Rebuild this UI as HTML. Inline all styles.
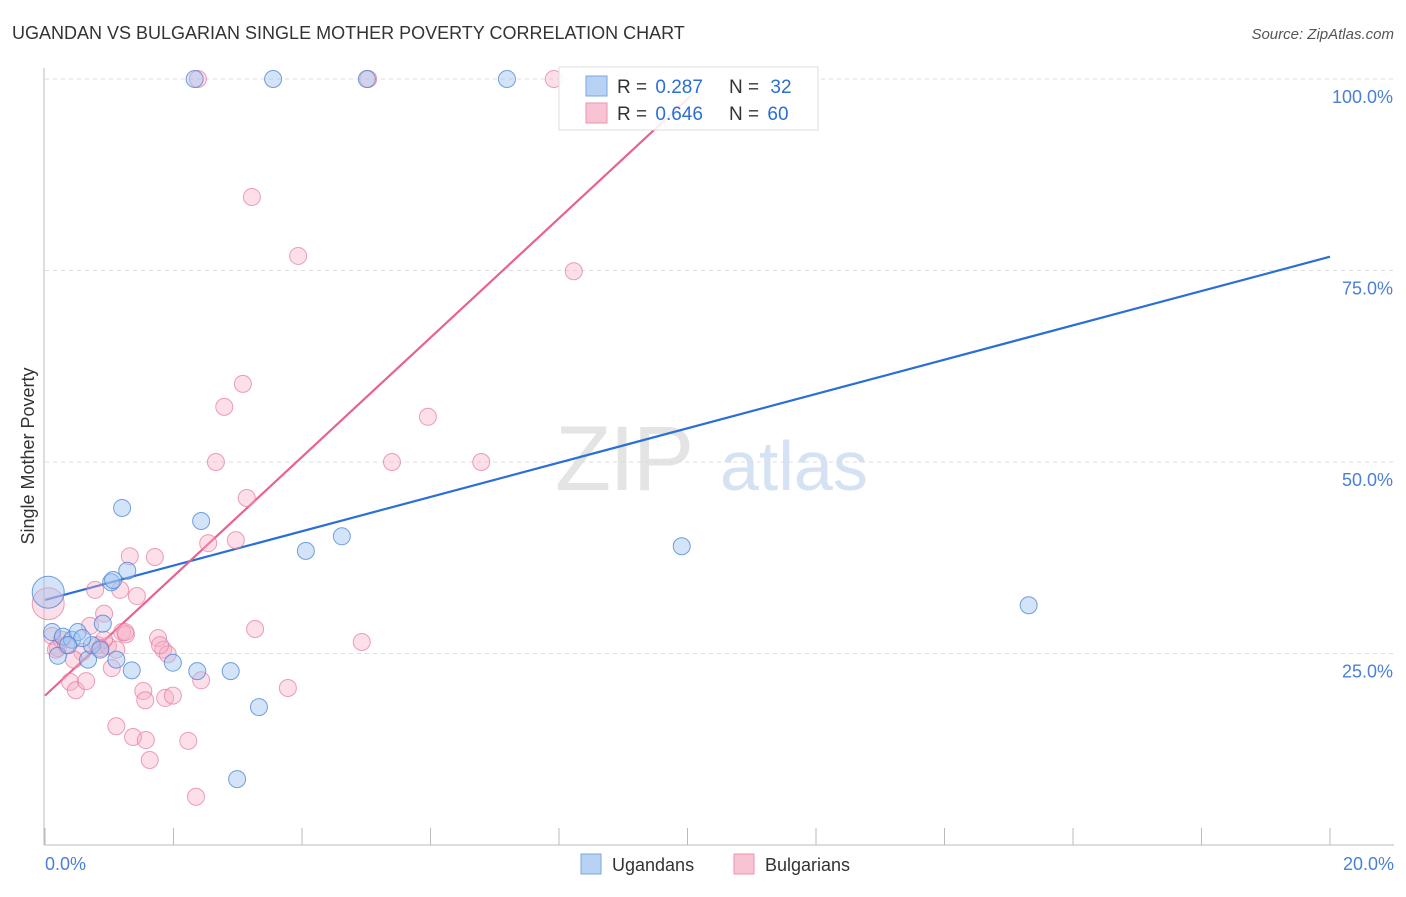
<!DOCTYPE html>
<html><head><meta charset="utf-8"><style>
body{margin:0;background:#fff;font-family:"Liberation Sans",sans-serif;}
svg text{font-family:"Liberation Sans",sans-serif;}
</style></head><body>
<svg id="chart" width="1406" height="892" viewBox="0 0 1406 892">
<text x="12" y="39" font-size="18" fill="#333">UGANDAN VS BULGARIAN SINGLE MOTHER POVERTY CORRELATION CHART</text>
<text x="1394" y="39" font-size="15" fill="#555" text-anchor="end" font-style="italic">Source: ZipAtlas.com</text>
<g>
<text x="555" y="490" font-size="92" fill="#e4e4e4" font-family="Liberation Serif" letter-spacing="-2">ZIP</text>
<text x="720" y="490" font-size="70" fill="#d5e2f4">atlas</text>
</g>
<g id="grid"></g>
<g id="axes"></g>
<g id="lines"></g>
<g id="points"></g>
<text transform="translate(34,456) rotate(-90)" font-size="18" fill="#333" text-anchor="middle">Single Mother Poverty</text>
<g>
<rect x="559" y="67" width="259" height="63" fill="#fff" fill-opacity="0.88" stroke="#ddd"/>
<rect x="586" y="76" width="21" height="20" fill="#b8d2f4" stroke="#7aa6e2"/>
<rect x="586" y="103" width="21" height="20" fill="#f8c4d4" stroke="#eb95b0"/>
<text x="617" y="93" font-size="19" fill="#333">R = <tspan fill="#2a6fd6" dx="3">0.287</tspan></text>
<text x="729" y="93" font-size="19" fill="#333">N = <tspan fill="#2a6fd6" dx="6">32</tspan></text>
<text x="617" y="120" font-size="19" fill="#333">R = <tspan fill="#2a6fd6" dx="3">0.646</tspan></text>
<text x="729" y="120" font-size="19" fill="#333">N = <tspan fill="#2a6fd6" dx="3">60</tspan></text>
</g>
<g>
<rect x="581" y="854" width="20" height="20" fill="#b8d2f4" stroke="#7aa6e2"/>
<text x="612" y="871" font-size="18" fill="#333">Ugandans</text>
<rect x="734" y="854" width="20" height="20" fill="#f8c4d4" stroke="#eb95b0"/>
<text x="765" y="871" font-size="18" fill="#333">Bulgarians</text>
</g>
</svg>
<script>
const ugX=[0.05,0.11,0.20,0.28,0.42,0.51,0.67,0.73,0.86,0.90,1.03,1.11,1.20,1.28,1.35,1.99,2.37,2.43,2.89,2.99,3.33,4.06,4.62,9.91,15.31,2.33,3.55,5.01,7.19,0.58,0.36,1.06];
const ugY=[33.0,27.8,24.7,27.2,26.8,27.8,24.2,26.1,25.5,28.9,34.3,24.2,44.0,35.8,22.8,23.8,22.7,42.3,22.7,8.6,18.0,38.4,40.3,39.0,31.3,100,100,100,100,27.0,26.1,34.6];
const bgX=[0.05,0.11,0.20,0.26,0.39,0.48,0.64,0.70,0.78,0.82,0.92,0.98,1.04,1.11,1.17,1.20,1.26,1.32,1.37,1.43,1.53,1.56,1.57,1.63,1.71,1.76,1.84,1.87,1.99,2.23,2.35,2.43,2.54,2.66,2.79,3.08,3.14,3.22,3.27,3.78,3.94,4.93,5.40,5.96,6.79,8.23,2.38,5.03,7.92,1.11,1.91,0.58,0.92,1.25,0.86,0.17,0.33,0.45,1.79,2.97];
const bgY=[31.5,27.3,25.7,26.8,21.3,20.2,21.4,28.6,33.3,26.1,30.2,26.0,23.1,15.5,33.3,27.8,27.5,37.7,14.1,32.5,20.1,18.9,13.7,11.1,37.6,27.0,25.5,19.2,19.5,13.6,6.3,21.5,39.4,50.0,57.2,60.2,45.3,84.6,28.2,20.5,76.9,26.5,50.0,55.9,50.0,74.9,100,100,100,25.5,24.9,25.2,26.8,27.8,25.7,25.5,26.1,24.2,26.1,39.8];
const trendIntercept=[32.0,19.5];
const trendSlope=[2.24,7.79];
const yTicks=[25,50,75,100];
const yTickLabels=["25.0%","50.0%","75.0%","100.0%"];
const xTicks=[0,2,4,6,8,10,12,14,16,18,20];

const NS="http://www.w3.org/2000/svg";
const sx=v=>45+v/20*1285;
const sy=v=>845-v/100*766;
function mk(tag,attrs,parent){const e=document.createElementNS(NS,tag);for(const k in attrs)e.setAttribute(k,attrs[k]);parent.appendChild(e);return e;}
const grid=document.getElementById('grid'),axes=document.getElementById('axes'),lines=document.getElementById('lines'),pts=document.getElementById('points');
yTicks.forEach((t,i)=>{
  const l=mk('line',{x1:45,x2:1394,y1:sy(t),y2:sy(t),stroke:'#ddd','stroke-dasharray':'4,4'},grid);
  
  
  const tx=mk('text',{x:1393,y:sy(t)+24,'font-size':18,fill:'#4a7fd6','text-anchor':'end'},grid);
  tx.textContent=yTickLabels[i];
  
  
});
const ax=mk('line',{x1:44,x2:44,y1:68,y2:845,stroke:'#bbb'},axes);


const bx=mk('line',{x1:44,x2:1394,y1:845,y2:845,stroke:'#bbb'},axes);


xTicks.forEach(t=>{
  const l=mk('line',{x1:sx(t),x2:sx(t),y1:828,y2:845,stroke:'#bbb'},axes);
  
  
});
const xl0=mk('text',{x:45,y:870,'font-size':18,fill:'#4a7fd6'},axes);xl0.textContent='0.0%';


const xl1=mk('text',{x:1394,y:870,'font-size':18,fill:'#4a7fd6','text-anchor':'end'},axes);xl1.textContent='20.0%';



function dots(X,Y,fill,stroke,name){
  X.forEach((x,i)=>{
    const big=i===0;
    const c=mk('circle',{cx:sx(x),cy:sy(Y[i]),r:big?16:8.5,fill:fill,stroke:stroke,'stroke-width':1},pts);
    
    
  });
}
dots(bgX,bgY,'rgba(246,170,196,0.38)','rgba(230,120,155,0.7)','bulgarians');
dots(ugX,ugY,'rgba(160,196,240,0.45)','rgba(70,130,215,0.75)','ugandans');

const bEnd=20;
const lb=mk('line',{x1:sx(0),y1:sy(trendIntercept[0]),x2:sx(bEnd),y2:sy(trendIntercept[0]+trendSlope[0]*bEnd),stroke:'#2a6fd6','stroke-width':2.2},lines);


const pEnd=Math.min(20,(98-trendIntercept[1])/trendSlope[1]);
const lp=mk('line',{x1:sx(0),y1:sy(trendIntercept[1]),x2:sx(pEnd),y2:sy(trendIntercept[1]+trendSlope[1]*pEnd),stroke:'#e8628c','stroke-width':2.2},lines);


</script>
</body></html>
